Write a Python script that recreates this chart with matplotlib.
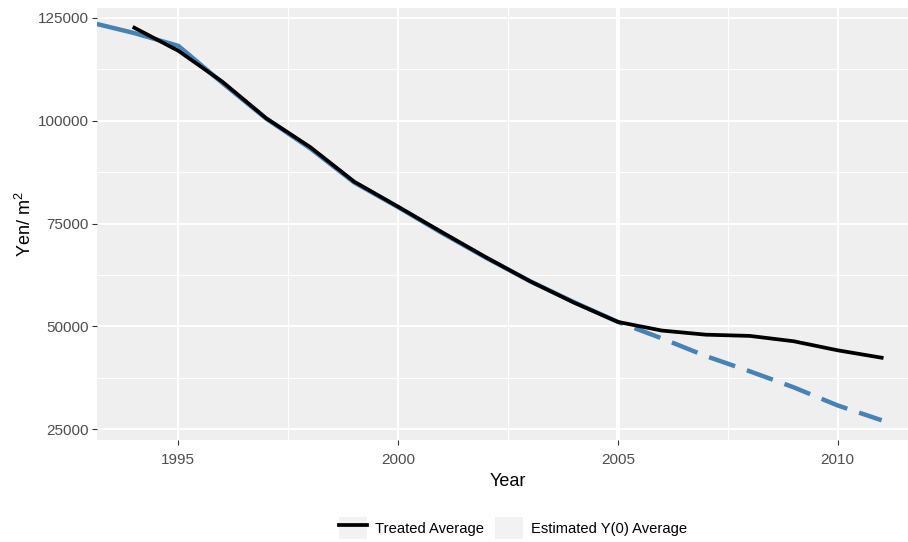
import numpy as np
import matplotlib.pyplot as plt
from matplotlib.lines import Line2D
from matplotlib.patches import Rectangle
from matplotlib.legend_handler import HandlerTuple

plt.rcParams['font.family'] = ['Liberation Sans', 'DejaVu Sans']
plt.rcParams['mathtext.fontset'] = 'custom'
plt.rcParams['mathtext.rm'] = 'Liberation Sans'

# treated average (black)
treated_years = np.arange(1994, 2012)
treated_vals = [122600, 117000, 109500, 100600, 93600, 85200, 79100, 72900, 66800,
                61000, 55800, 51100, 49000, 48000, 47700, 46400, 44200, 42400]

# estimated Y(0) average (blue)
est_years = np.arange(1993, 2012)
est_vals = [123900, 121300, 118200, 109200, 100500, 93300, 85000, 79000, 72700, 66700,
            61000, 55900, 51100, 47100, 42800, 39100, 35200, 30800, 27200]

treat_year = 2005
x_ticks = [1995, 2000, 2005, 2010]
y_ticks = [25000, 50000, 75000, 100000, 125000]

fig = plt.figure(figsize=(9.08, 5.42), dpi=100)
# panel runs past the right edge (the reference is cropped there)
ax = fig.add_axes([97 / 908, 1 - 440 / 542, 822 / 908, 432 / 542])
ax.set_facecolor('#efefef')
for s in ax.spines.values():
    s.set_visible(False)

ax.set_xlim(1993.15, 2011.85)
ax.set_ylim(22400, 127400)
ax.set_xticks(x_ticks)
ax.set_xticks([1997.5, 2002.5, 2007.5], minor=True)
ax.set_yticks(y_ticks)
ax.set_yticks([37500, 62500, 87500, 112500], minor=True)
ax.set_yticklabels([str(v) for v in y_ticks])
ax.grid(which='major', color='white', lw=1.4)
ax.grid(which='minor', color='white', lw=0.7)
ax.set_axisbelow(True)
ax.tick_params(which='major', length=3.5, width=0.8, color='#333333',
               labelcolor='#4d4d4d', labelsize=11)
ax.tick_params(axis='x', pad=6)
ax.tick_params(axis='y', pad=2.5)
ax.tick_params(which='minor', length=0)

ax.axvline(treat_year, color='white', lw=3, zorder=1.5)

est_years_arr = np.array(est_years)
est_arr = np.array(est_vals)
pre = est_years_arr <= treat_year
post = est_years_arr >= treat_year
ax.plot(est_years_arr[pre], est_arr[pre], color='#4682b4', lw=3.2,
        solid_capstyle='butt', zorder=2)
ax.plot(est_years_arr[post], est_arr[post], color='#4682b4', lw=3.2,
        linestyle=(5.0, (6.2, 2.8)), dash_capstyle='butt', zorder=2)
ax.plot(treated_years, treated_vals, color='black', lw=2.7, zorder=3)

ax.set_xlabel('Year', fontsize=13, labelpad=4)
ax.set_ylabel(r'Yen/ $\mathrm{m}^2$', fontsize=13, labelpad=2)

key_bg = '#f2f2f2'
h1 = (Rectangle((0, 0), 1, 1, facecolor=key_bg, edgecolor='none'),
      Line2D([], [], color='black', lw=2.7))
h2 = Rectangle((0, 0), 1, 1, facecolor=key_bg, edgecolor='none')
fig.legend([h1, h2], ['Treated Average', 'Estimated Y(0) Average'],
           loc='center', bbox_to_anchor=(513 / 908, 1 - 528 / 542), ncol=2,
           frameon=False, fontsize=10.6, handlelength=1.9, handleheight=1.9,
           handletextpad=0.55, columnspacing=0.75, borderpad=0,
           handler_map={tuple: HandlerTuple(ndivide=1)})

fig.savefig('out.png', dpi=100)
